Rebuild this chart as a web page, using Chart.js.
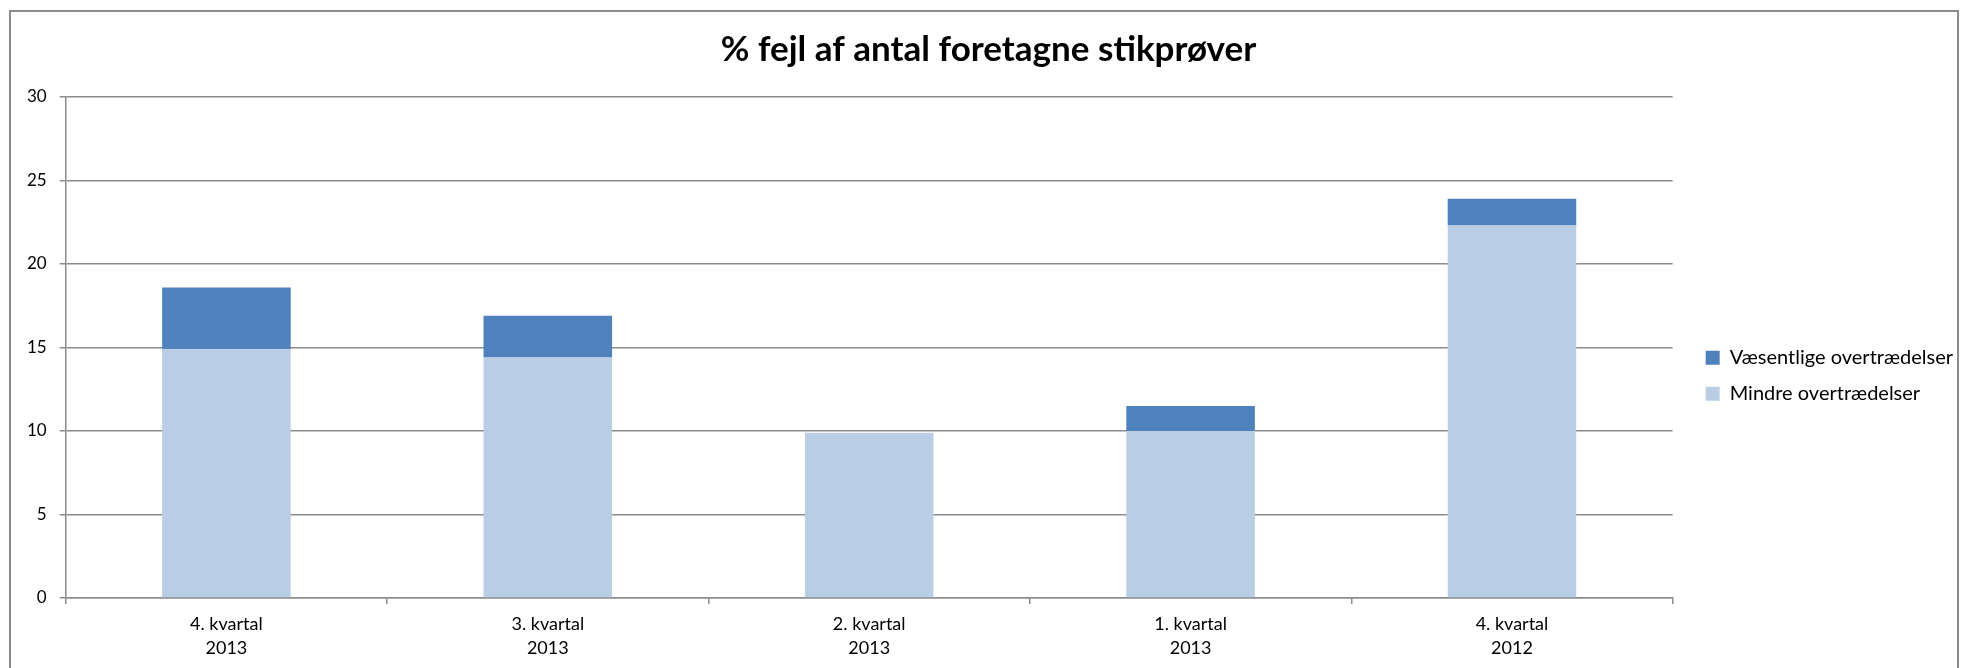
<!DOCTYPE html>
<html>
<head>
<meta charset="utf-8">
<script src="https://cdn.jsdelivr.net/npm/chart.js@4"></script>
<style>
  html, body { margin: 0; padding: 0; background: #fff; overflow: hidden; }
  #wrap { position: relative; width: 1968px; height: 668px; }
  #ramme {
    position: absolute; left: 9px; top: 10px; width: 1950px; height: 700px;
    border: 2px solid #8c8c8c; box-sizing: border-box; pointer-events: none;
  }
  canvas { position: absolute; left: 0; top: 0; }
</style>
</head>
<body>
<div id="wrap">
  <div id="ramme"></div>
  <canvas id="graf" width="1968" height="668"></canvas>
</div>
<script>
// data
const kvartaler = [
  ["4. kvartal", "2013"],
  ["3. kvartal", "2013"],
  ["2. kvartal", "2013"],
  ["1. kvartal", "2013"],
  ["4. kvartal", "2012"],
];
const mindre = [14.9, 14.4, 9.9, 10.0, 22.3];
const vaesentlige = [3.7, 2.5, 0, 1.5, 1.6];
const yMin = 0;
const yMax = 30;
const yStep = 5;

const gitter = "#8c8c8c";
const skrift = "Lato";

const ctx = document.getElementById("graf").getContext("2d");

new Chart(ctx, {
  type: "bar",
  data: {
    labels: kvartaler,
    datasets: [
      {
        label: "Mindre overtrædelser",
        data: mindre,
        backgroundColor: "#B9CDE5",
        borderWidth: 0,
      },
      {
        label: "Væsentlige overtrædelser",
        data: vaesentlige,
        backgroundColor: "#4F81BD",
        borderWidth: 0,
      },
    ],
  },
  options: {
    responsive: false,
    animation: false,
    datasets: {
      bar: { barPercentage: 0.4, categoryPercentage: 1.0 },
    },
    layout: {
      padding: { left: 14, right: 5, top: 0, bottom: 0 },
    },
    scales: {
      x: {
        stacked: true,
        offset: true,
        grid: {
          drawOnChartArea: false,
          drawTicks: true,
          tickLength: 6,
          color: gitter,
          lineWidth: 1.5,
        },
        border: { color: gitter, width: 1.5 },
        ticks: {
          color: "#000",
          padding: 8,
          maxRotation: 0,
          font: { family: skrift, size: 18, lineHeight: 1.333 },
        },
      },
      y: {
        stacked: true,
        min: yMin,
        max: yMax,
        ticks: {
          stepSize: yStep,
          color: "#000",
          padding: 13,
          font: { family: skrift, size: 17 },
        },
        grid: {
          color: gitter,
          lineWidth: 1.5,
          tickLength: 6,
        },
        border: { color: gitter, width: 1.5 },
      },
      // tom akse, giver luft mellem plot og forklaring
      luft: {
        type: "linear",
        position: "right",
        display: true,
        grid: { display: false },
        border: { display: false },
        ticks: { display: false },
        afterFit: (s) => { s.width = 17; },
      },
    },
    plugins: {
      title: {
        display: true,
        text: "% fejl af antal foretagne stikprøver",
        color: "#000",
        font: { family: skrift, size: 35, weight: "bold" },
        padding: { top: 29, bottom: 26 },
      },
      legend: {
        position: "right",
        fullSize: false,
        reverse: true,
        title: { display: true, text: "", padding: { top: 42, bottom: 0 } },
        labels: {
          color: "#000",
          boxWidth: 14,
          boxHeight: 14,
          padding: 16,
          font: { family: skrift, size: 20 },
        },
      },
      tooltip: { enabled: false },
    },
  },
});
</script>
</body>
</html>
